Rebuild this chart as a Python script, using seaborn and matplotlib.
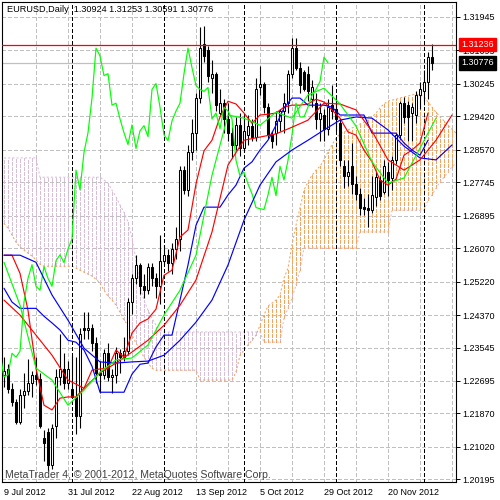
import numpy as np
import matplotlib
matplotlib.use("Agg")
import matplotlib.pyplot as plt
import matplotlib.transforms as mtransforms
import seaborn as sns

# ---------------- data ----------------
x_labels = ["9 Jul 2012", "31 Jul 2012", "22 Aug 2012", "13 Sep 2012",
            "5 Oct 2012", "29 Oct 2012", "20 Nov 2012"]
x_label_bars = [0, 16, 32, 48, 64, 80, 96]
month_start_bars = [17, 40, 60, 83, 105]
y_ticks = [1.31945, 1.31095, 1.30245, 1.29420, 1.28570, 1.27745, 1.26895, 1.26070,
           1.25220, 1.24370, 1.23545, 1.22695, 1.21870, 1.21020, 1.20195]

opens = [1.2285, 1.2300, 1.2250, 1.2215, 1.2165, 1.2235, 1.2245, 1.2265, 1.2285, 1.2275,
         1.2125, 1.2140, 1.2055, 1.2155, 1.2280, 1.2300, 1.2265, 1.2250, 1.2228, 1.2180,
         1.2405, 1.2398, 1.2405, 1.2365, 1.2290, 1.2285, 1.2340, 1.2280, 1.2285, 1.2340,
         1.2330, 1.2345, 1.2470, 1.2530, 1.2565, 1.2510, 1.2500, 1.2560, 1.2530, 1.2510,
         1.2575, 1.2590, 1.2570, 1.2605, 1.2630, 1.2805, 1.2755, 1.2850, 1.2900, 1.2988,
         1.3125, 1.3110, 1.3040, 1.3050, 1.2950, 1.2975, 1.2935, 1.2900, 1.2870, 1.2920,
         1.2860, 1.2895, 1.2918, 1.2890, 1.3015, 1.3025, 1.2965, 1.2895, 1.2900, 1.2930,
         1.2955, 1.2975, 1.3050, 1.3115, 1.3065, 1.3055, 1.3050, 1.2985, 1.2975, 1.2935,
         1.2945, 1.2910, 1.2970, 1.2960, 1.2925, 1.2815, 1.2790, 1.2815, 1.2770, 1.2745,
         1.2712, 1.2710, 1.2705, 1.2737, 1.2780, 1.2750, 1.2800, 1.2785, 1.2830, 1.2895,
         1.2975, 1.2970, 1.2950, 1.2945, 1.2995, 1.3005, 1.3030, 1.30924]
highs = [1.2330, 1.2312, 1.2265, 1.2225, 1.2250, 1.2290, 1.2325, 1.2295, 1.2330, 1.2290,
         1.2145, 1.2150, 1.2160, 1.2300, 1.2390, 1.2340, 1.2320, 1.2335, 1.2330, 1.2405,
         1.2445, 1.2445, 1.2415, 1.2380, 1.2320, 1.2350, 1.2365, 1.2300, 1.2355, 1.2350,
         1.2380, 1.2480, 1.2540, 1.2590, 1.2570, 1.2540, 1.2570, 1.2570, 1.2545, 1.2640,
         1.2615, 1.2605, 1.2620, 1.2660, 1.2815, 1.2815, 1.2870, 1.2935, 1.3000, 1.3168,
         1.3170, 1.3120, 1.3085, 1.3055, 1.3010, 1.2985, 1.2975, 1.2915, 1.2940, 1.2950,
         1.2945, 1.2945, 1.2935, 1.3040, 1.3070, 1.3030, 1.2975, 1.2905, 1.2955, 1.2960,
         1.3000, 1.3060, 1.3140, 1.3140, 1.3080, 1.3060, 1.3070, 1.3035, 1.3000, 1.2975,
         1.2960, 1.2985, 1.3020, 1.2995, 1.2935, 1.2830, 1.2830, 1.2875, 1.2790, 1.2760,
         1.2735, 1.2745, 1.2790, 1.2800, 1.2790, 1.2830, 1.2825, 1.2840, 1.2900, 1.2980,
         1.2990, 1.2980, 1.2975, 1.3005, 1.3030, 1.3060, 1.3105, 1.31253]
lows = [1.2255, 1.2240, 1.2205, 1.2160, 1.2160, 1.2200, 1.2235, 1.2230, 1.2260, 1.2150,
        1.2067, 1.2042, 1.2045, 1.2125, 1.2260, 1.2250, 1.2250, 1.2230, 1.2135, 1.2150,
        1.2375, 1.2375, 1.2345, 1.2265, 1.2240, 1.2275, 1.2270, 1.2240, 1.2265, 1.2290,
        1.2320, 1.2335, 1.2440, 1.2515, 1.2490, 1.2480, 1.2490, 1.2510, 1.2480, 1.2465,
        1.2565, 1.2550, 1.2540, 1.2580, 1.2600, 1.2745, 1.2740, 1.2830, 1.2855, 1.2975,
        1.3080, 1.3030, 1.3000, 1.2955, 1.2945, 1.2900, 1.2880, 1.2835, 1.2855, 1.2840,
        1.2850, 1.2870, 1.2880, 1.2880, 1.2995, 1.2950, 1.2885, 1.2860, 1.2870, 1.2905,
        1.2900, 1.2950, 1.3040, 1.3060, 1.3000, 1.3005, 1.2980, 1.2965, 1.2910, 1.2880,
        1.2880, 1.2895, 1.2935, 1.2905, 1.2815, 1.2760, 1.2765, 1.2745, 1.2730, 1.2690,
        1.2690, 1.2660, 1.2695, 1.2715, 1.2730, 1.2745, 1.2740, 1.2755, 1.2820, 1.2885,
        1.2925, 1.2880, 1.2880, 1.2925, 1.2960, 1.2980, 1.2985, 1.30591]
closes = [1.2295, 1.2250, 1.2215, 1.2165, 1.2235, 1.2245, 1.2265, 1.2285, 1.2275, 1.2155,
          1.2112, 1.2055, 1.2150, 1.2280, 1.2300, 1.2265, 1.2300, 1.2228, 1.2180, 1.2390,
          1.2398, 1.2405, 1.2366, 1.2290, 1.2285, 1.2340, 1.2280, 1.2285, 1.2340, 1.2330,
          1.2345, 1.2470, 1.2530, 1.2565, 1.2510, 1.2500, 1.2560, 1.2530, 1.2510, 1.2575,
          1.2590, 1.2570, 1.2605, 1.2630, 1.2805, 1.2755, 1.2850, 1.2900, 1.2988, 1.3115,
          1.3095, 1.3045, 1.3050, 1.2970, 1.2975, 1.2935, 1.2900, 1.2870, 1.2920, 1.2860,
          1.2905, 1.2918, 1.2890, 1.3010, 1.3025, 1.2965, 1.2895, 1.2880, 1.2930, 1.2955,
          1.2975, 1.3050, 1.3115, 1.3065, 1.3020, 1.3010, 1.3005, 1.3015, 1.2935, 1.2950,
          1.2910, 1.2965, 1.2955, 1.2935, 1.2830, 1.2790, 1.2800, 1.2770, 1.2745, 1.2710,
          1.2707, 1.2705, 1.2742, 1.2787, 1.2740, 1.2815, 1.2780, 1.2830, 1.2895, 1.2975,
          1.2940, 1.2940, 1.2965, 1.2995, 1.3010, 1.3030, 1.3092, 1.30776]

# Ichimoku (read every 2 bars for tenkan / kijun, every bar for the cloud)
tenkan = [1.2589, 1.2589, 1.2543, 1.2449, 1.2302, 1.2208, 1.2196, 1.2226, 1.2229, 1.2229,
          1.2251, 1.2297, 1.2300, 1.2302, 1.2348, 1.2330, 1.2391, 1.2417, 1.2427, 1.2452,
          1.2538, 1.2551, 1.2635, 1.2653, 1.2770, 1.2854, 1.2881, 1.2940, 1.2980, 1.2973,
          1.2950, 1.2924, 1.2945, 1.2947, 1.2950, 1.2965, 1.2970, 1.2970, 1.2973, 1.2985,
          1.2978, 1.2958, 1.2937, 1.2902, 1.2894, 1.2856, 1.2826, 1.2780, 1.2767, 1.2782,
          1.2843, 1.2856, 1.2874, 1.2950]
kijun = [1.2505, 1.2470, 1.2454, 1.2454, 1.2454, 1.2434, 1.2417, 1.2399, 1.2373, 1.2368,
         1.2348, 1.2307, 1.2241, 1.2241, 1.2241, 1.2241, 1.2287, 1.2312, 1.2315, 1.2356,
         1.2386, 1.2386, 1.2475, 1.2564, 1.2665, 1.2711, 1.2711, 1.2711, 1.2742, 1.2767,
         1.2810, 1.2826, 1.2856, 1.2881, 1.2919, 1.2963, 1.2988, 1.2988, 1.2970, 1.2970,
         1.2970, 1.2965, 1.2945, 1.2945, 1.2945, 1.2945, 1.2899, 1.2899, 1.2899, 1.2899,
         1.2874, 1.2856, 1.2843, 1.2881]
span_a = [1.2670, 1.2658, 1.2640, 1.2622, 1.2610, 1.2602, 1.2594, 1.2587, 1.2577, 1.2566,
          1.2561, 1.2561, 1.2561, 1.2561, 1.2561, 1.2561, 1.2561, 1.2561, 1.2556, 1.2551,
          1.2546, 1.2541, 1.2536, 1.2528, 1.2518, 1.2500, 1.2485, 1.2475, 1.2462, 1.2444,
          1.2424, 1.2411, 1.2386, 1.2366, 1.2348, 1.2330, 1.2315, 1.2302, 1.2297, 1.2297,
          1.2297, 1.2297, 1.2297, 1.2297, 1.2297, 1.2297, 1.2297, 1.2297, 1.2297, 1.2272,
          1.2272, 1.2272, 1.2272, 1.2272, 1.2272, 1.2272, 1.2272, 1.2272, 1.2292, 1.2335,
          1.2348, 1.2361, 1.2373, 1.2386, 1.2411, 1.2437, 1.2460, 1.2467, 1.2475, 1.2488,
          1.2531, 1.2556, 1.2615, 1.2665, 1.2709, 1.2754, 1.2775, 1.2792, 1.2805, 1.2815,
          1.2831, 1.2851, 1.2869, 1.2886, 1.2897, 1.2902, 1.2907, 1.2912, 1.2917, 1.2922,
          1.2927, 1.2932, 1.2940, 1.2950, 1.2963, 1.2973, 1.2980, 1.2983, 1.2985, 1.2988,
          1.2991, 1.2993, 1.2996, 1.2998, 1.2996, 1.2991, 1.2978, 1.2965, 1.2952, 1.2940,
          1.2930, 1.2919, 1.2909, 1.2899]
span_b = [1.2836, 1.2836, 1.2836, 1.2836, 1.2836, 1.2836, 1.2836, 1.2836, 1.2836, 1.2787,
          1.2787, 1.2787, 1.2787, 1.2787, 1.2787, 1.2787, 1.2787, 1.2787, 1.2787, 1.2787,
          1.2787, 1.2787, 1.2787, 1.2787, 1.2787, 1.2780, 1.2772, 1.2754, 1.2737, 1.2716,
          1.2698, 1.2673, 1.2632, 1.2577, 1.2513, 1.2475, 1.2449, 1.2429, 1.2411, 1.2399,
          1.2394, 1.2394, 1.2394, 1.2394, 1.2394, 1.2394, 1.2394, 1.2394, 1.2394, 1.2394,
          1.2394, 1.2394, 1.2394, 1.2394, 1.2394, 1.2394, 1.2394, 1.2394, 1.2394, 1.2394,
          1.2394, 1.2394, 1.2394, 1.2394, 1.2394, 1.2368, 1.2368, 1.2368, 1.2368, 1.2368,
          1.2429, 1.2454, 1.2480, 1.2513, 1.2551, 1.2607, 1.2607, 1.2607, 1.2607, 1.2607,
          1.2607, 1.2607, 1.2607, 1.2607, 1.2607, 1.2607, 1.2607, 1.2607, 1.2607, 1.2648,
          1.2648, 1.2648, 1.2648, 1.2648, 1.2648, 1.2648, 1.2648, 1.2703, 1.2703, 1.2703,
          1.2703, 1.2703, 1.2703, 1.2703, 1.2703, 1.2703, 1.2729, 1.2742, 1.2759, 1.2775,
          1.2787, 1.2800, 1.2813, 1.2823]

# Alligator (read every 4 bars)
jaw = [1.2589, 1.2589, 1.2571, 1.2488, 1.2424, 1.2353, 1.2318, 1.2315, 1.2318, 1.2320,
       1.2335, 1.2373, 1.2419, 1.2475, 1.2564, 1.2678, 1.2767, 1.2826, 1.2856, 1.2881,
       1.2907, 1.2932, 1.2940, 1.2937, 1.2907, 1.2866, 1.2836, 1.2831, 1.2869]
teeth = [1.2475, 1.2437, 1.2386, 1.2335, 1.2272, 1.2251, 1.2290, 1.2315, 1.2343, 1.2373,
         1.2411, 1.2462, 1.2526, 1.2648, 1.2818, 1.2881, 1.2889, 1.2897, 1.2914, 1.2932,
         1.2975, 1.2973, 1.2958, 1.2904, 1.2831, 1.2805, 1.2831, 1.2881, 1.2945]
lips = [1.2571, 1.2462, 1.2302, 1.2272, 1.2208, 1.2246, 1.2292, 1.2323, 1.2328, 1.2361,
        1.2437, 1.2500, 1.2589, 1.2792, 1.2945, 1.2937, 1.2919, 1.2952, 1.2937, 1.2996,
        1.3013, 1.2973, 1.2917, 1.2826, 1.2772, 1.2785, 1.2861, 1.2937]

price_line = 1.31236
bid_line = 1.30776
chikou_shift = 26
header = "EURUSD,Daily  1.30924 1.31253 1.30591 1.30776"
credit = "MetaTrader 4, \u00a9 2001-2012, MetaQuotes Software Corp."

# ---------------- drawing ----------------
sns.set_style("white")
plt.rcParams["font.family"] = ["Liberation Sans", "DejaVu Sans"]

fig = plt.figure(figsize=(5, 5), dpi=100, facecolor="white")
ax = fig.add_axes([0.004, 0.036, 0.908, 0.96])
ax.set_facecolor("white")
ax.set_xlim(-0.5, 113)
ax.set_ylim(1.2013, 1.3232)

grid_kw = dict(color="#c0c0c0", lw=0.75, ls=(0, (3, 2)), zorder=0.5, antialiased=False)
for yv in y_ticks:
    ax.axhline(yv, **grid_kw)
for xv in range(8, 113, 8):
    ax.axvline(xv, **grid_kw)

# cloud
cb = np.arange(len(span_a))
A = np.array(span_a)
B = np.array(span_b)
bull = A >= B
dot = [(0, (3, 2))]
ax.vlines(cb[bull], B[bull], A[bull], colors="#F4A460", linestyles=dot, lw=0.72,
          zorder=1, antialiased=False)
ax.vlines(cb[~bull], A[~bull], B[~bull], colors="#D8BFD8", linestyles=dot, lw=0.72,
          zorder=1, antialiased=False)
ax.plot(cb, A, color="#F4A460", ls=(0, (2, 2)), lw=0.75, zorder=1.2)
ax.plot(cb, B, color="#D8BFD8", ls=(0, (2, 2)), lw=0.75, zorder=1.2)

# period separators
for xv in month_start_bars:
    ax.axvline(xv, color="black", lw=0.8, ls=(0, (3, 2)), zorder=1.5, antialiased=False)

# candles
o = np.array(opens); h = np.array(highs); l = np.array(lows); c = np.array(closes)
bars = np.arange(len(o))
ax.vlines(bars, l, h, color="black", lw=0.8, zorder=3)
up = c >= o
bot = np.minimum(o, c)
hgt = np.maximum(np.abs(c - o), 0.00012)
ax.bar(bars[up], hgt[up], bottom=bot[up], width=0.55, color="white",
       edgecolor="black", linewidth=0.75, zorder=4)
ax.bar(bars[~up], hgt[~up], bottom=bot[~up], width=0.55, color="black",
       edgecolor="black", linewidth=0.75, zorder=4)

# indicator lines
lw = 0.85
sns.lineplot(x=np.arange(len(tenkan)) * 2, y=tenkan, color="#FF0000", lw=lw, ax=ax,
             estimator=None, sort=False, legend=False, zorder=5)
sns.lineplot(x=np.arange(len(kijun)) * 2, y=kijun, color="#0000FF", lw=lw, ax=ax,
             estimator=None, sort=False, legend=False, zorder=5)
sns.lineplot(x=bars - chikou_shift, y=c, color="#00FF00", lw=lw, ax=ax,
             estimator=None, sort=False, legend=False, zorder=5)
sns.lineplot(x=np.arange(len(jaw)) * 4, y=jaw, color="#0000FF", lw=lw, ax=ax,
             estimator=None, sort=False, legend=False, zorder=5)
sns.lineplot(x=np.arange(len(teeth)) * 4, y=teeth, color="#FF0000", lw=lw, ax=ax,
             estimator=None, sort=False, legend=False, zorder=5)
sns.lineplot(x=np.arange(len(lips)) * 4, y=lips, color="#00FF00", lw=lw, ax=ax,
             estimator=None, sort=False, legend=False, zorder=5)

# price lines
ax.axhline(bid_line, color="#c0c0c0", lw=0.9, zorder=2)
ax.axhline(price_line, color="#FF0000", lw=0.9, zorder=6)

# axes styling
for s in ax.spines.values():
    s.set_color("black")
    s.set_linewidth(0.8)
ax.set_yticks(y_ticks)
ax.set_yticklabels([f"{v:.5f}" for v in y_ticks])
ax.yaxis.tick_right()
ax.tick_params(axis="y", right=True, left=False, labelright=True, labelleft=False,
               length=3, width=0.7, pad=1.5, labelsize=6.5, colors="black")
ax.set_xticks(x_label_bars)
ax.set_xticklabels(x_labels, ha="left")
ax.tick_params(axis="x", length=3, width=0.7, pad=1.5, labelsize=6.5, colors="black")
ax.set_xlabel("")
ax.set_ylabel("")
ax.grid(False)

trans = mtransforms.blended_transform_factory(ax.transAxes, ax.transData)
ax.text(1.011, price_line, f"{price_line:.5f}", transform=trans, color="white",
        fontsize=6.5, va="center", ha="left", clip_on=False, zorder=10,
        bbox=dict(boxstyle="square,pad=0.25", fc="#FF0000", ec="#FF0000"))
ax.text(1.011, bid_line, f"{bid_line:.5f}", transform=trans, color="white",
        fontsize=6.5, va="center", ha="left", clip_on=False, zorder=10,
        bbox=dict(boxstyle="square,pad=0.25", fc="black", ec="black"))

fig.text(7 / 500, 1 - 10 / 500, header, fontsize=6.6, color="black", va="center", ha="left")
fig.text(5 / 500, 1 - 475 / 500, credit, fontsize=7.6, color="#404040", va="center", ha="left")

fig.savefig("out.png", dpi=100, facecolor="white")
